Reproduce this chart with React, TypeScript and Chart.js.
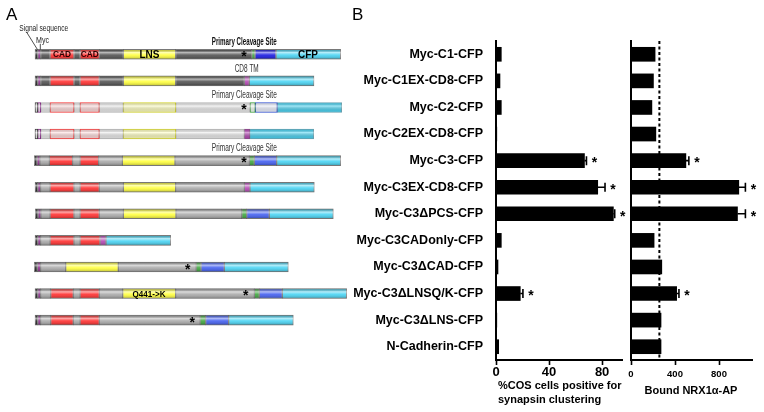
import React, { useEffect, useRef } from 'react';
import { Chart, registerables } from 'chart.js';

Chart.register(...registerables);

const FONT = '"Liberation Sans", Arial, sans-serif';

// ---------- Shared categories ----------
const constructNames = [
  'Myc-C1-CFP',
  'Myc-C1EX-CD8-CFP',
  'Myc-C2-CFP',
  'Myc-C2EX-CD8-CFP',
  'Myc-C3-CFP',
  'Myc-C3EX-CD8-CFP',
  'Myc-C3ΔPCS-CFP',
  'Myc-C3CADonly-CFP',
  'Myc-C3ΔCAD-CFP',
  'Myc-C3ΔLNSQ/K-CFP',
  'Myc-C3ΔLNS-CFP',
  'N-Cadherin-CFP',
];

// ---------- Panel B data ----------
const clusteringPct = [4, 3, 4, 0.6, 66.7, 76.7, 88.5, 4, 1.5, 18.3, 0.6, 2];
const clusteringErr = [0, 0, 0, 0, 1.5, 5.5, 1, 0, 0, 2, 0, 0];
const clusteringSignificant = [0, 0, 0, 0, 1, 1, 1, 0, 0, 1, 0, 0];
const clusteringTicks = [0, 40, 80];
const clusteringMax = 95;

const boundNrx = [219, 204, 190, 226, 499, 980, 968, 210, 280, 415, 273, 273];
const boundErr = [0, 0, 0, 0, 27, 60, 72, 0, 0, 21, 0, 0];
const boundSignificant = [0, 0, 0, 0, 1, 1, 1, 0, 0, 1, 0, 0];
const boundThreshold = 258;
const boundTicks = [0, 400, 800];
const boundMax = 1100;

// ---------- Panel A schematic (start, end, domain) in schematic units ----------
type Seg = [number, number, string];
const segC1: Seg[] = [[35, 37.7, 'sig'], [37.7, 40.7, 'myc'], [40.7, 50, 'gd'], [50, 74, 'cad'], [74, 80, 'gd'], [80, 99.3, 'cad'], [99.3, 123.3, 'gd'], [123.3, 175.7, 'lns'], [175.7, 251.7, 'gd'], [251.7, 255, 'pcs'], [255, 276, 'blueD'], [276, 340.7, 'cfp']];
const segC1EX: Seg[] = [[35, 37.7, 'sig'], [37.7, 40.7, 'myc'], [40.7, 50, 'gd'], [50, 74, 'cad'], [74, 80, 'gd'], [80, 99.3, 'cad'], [99.3, 123.3, 'gd'], [123.3, 175.7, 'lns'], [175.7, 244.3, 'gd'], [244.3, 249.3, 'tm'], [249.3, 314, 'cfp']];
const segC2: Seg[] = [[35, 37.7, 'sig'], [37.7, 40.7, 'myc'], [40.7, 50, 'g'], [50, 74, 'cad'], [74, 80, 'g'], [80, 99.3, 'cad'], [99.3, 123.3, 'g'], [123.3, 175.7, 'lns'], [175.7, 250, 'g'], [250, 255.3, 'pcs'], [255.3, 277.3, 'blue'], [277.3, 341.7, 'cfp']];
const segC2EX: Seg[] = [[35, 37.7, 'sig'], [37.7, 40.7, 'myc'], [40.7, 50, 'g'], [50, 74, 'cad'], [74, 80, 'g'], [80, 99.3, 'cad'], [99.3, 123.3, 'g'], [123.3, 175.7, 'lns'], [175.7, 244.3, 'g'], [244.3, 249.7, 'tm'], [249.7, 313.7, 'cfp']];
const segC3: Seg[] = [[34.3, 37, 'sig'], [37, 40, 'myc'], [40, 49.3, 'g'], [49.3, 72.7, 'cad'], [72.7, 80, 'g'], [80, 98.7, 'cad'], [98.7, 122.3, 'g'], [122.3, 175, 'lns'], [175, 249.3, 'g'], [249.3, 254.3, 'pcs'], [254.3, 276.7, 'blue'], [276.7, 340.7, 'cfp']];
const segC3EX: Seg[] = [[35, 37.7, 'sig'], [37.7, 40.7, 'myc'], [40.7, 50, 'g'], [50, 74, 'cad'], [74, 80, 'g'], [80, 99.3, 'cad'], [99.3, 123.3, 'g'], [123.3, 175.7, 'lns'], [175.7, 244.3, 'g'], [244.3, 250, 'tm'], [250, 314.3, 'cfp']];
const segC3dPCS: Seg[] = [[35.3, 38, 'sig'], [38, 41, 'myc'], [41, 50, 'g'], [50, 74, 'cad'], [74, 80, 'g'], [80, 99.3, 'cad'], [99.3, 123.3, 'g'], [123.3, 176, 'lns'], [176, 241.7, 'g'], [241.7, 246.7, 'pcs'], [246.7, 269.3, 'blue'], [269.3, 333.3, 'cfp']];
const segC3CADonly: Seg[] = [[35, 37.7, 'sig'], [37.7, 40.7, 'myc'], [40.7, 50, 'g'], [50, 74, 'cad'], [74, 80, 'g'], [80, 100, 'cad'], [100, 106, 'tm'], [106, 170.7, 'cfp']];
const segC3dCAD: Seg[] = [[34.3, 37.3, 'sig'], [37.3, 40.7, 'myc'], [40.7, 65.7, 'g'], [65.7, 118.3, 'lns'], [118.3, 196, 'g'], [196, 201, 'pcs'], [201, 224.3, 'blue'], [224.3, 288.3, 'cfp']];
const segC3dLNSQK: Seg[] = [[35, 37.7, 'sig'], [37.7, 40.7, 'myc'], [40.7, 50.7, 'g'], [50.7, 73.3, 'cad'], [73.3, 80, 'g'], [80, 99.3, 'cad'], [99.3, 122.7, 'g'], [122.7, 175.7, 'lns'], [175.7, 254.3, 'g'], [254.3, 259.3, 'pcs'], [259.3, 282.3, 'blue'], [282.3, 346.7, 'cfp']];
const segC3dLNS: Seg[] = [[35, 37.7, 'sig'], [37.7, 40.7, 'myc'], [40.7, 50.7, 'g'], [50.7, 73.3, 'cad'], [73.3, 80, 'g'], [80, 99.3, 'cad'], [99.3, 200, 'g'], [200, 205.7, 'pcs'], [205.7, 228.7, 'blue'], [228.7, 293.3, 'cfp']];
const schematicRows: Seg[][] = [segC1, segC1EX, segC2, segC2EX, segC3, segC3EX, segC3dPCS, segC3CADonly, segC3dCAD, segC3dLNSQK, segC3dLNS];
const fadedRows = [2, 3];
const cleavageStars: [number, number][] = [[0, 244], [2, 244], [4, 244], [8, 187.7], [9, 245.7], [10, 192.3]];
const domainLabels: [number, number, string][] = [[0, 62, 'CAD'], [0, 89.7, 'CAD'], [0, 149.5, 'LNS'], [0, 308, 'CFP'], [9, 149, 'Q441->K']];
const siteLabels: [number, number, string, number][] = [[0, 244.3, 'Primary Cleavage Site', 1], [1, 246.7, 'CD8 TM', 0], [2, 244.3, 'Primary Cleavage Site', 0], [4, 244.3, 'Primary Cleavage Site', 0]];

// ---------- Styles ----------
const SEG_FILL: Record<string, string> = {
  sig: '#1e1e1e', myc: '#8c2c8c', gd: '#4e4e4e', g: '#a8a8a8', cad: '#ff2b2b', lns: '#ffff3a',
  pcs: '#3aa53a', blue: '#3f5cf0', blueD: '#1414e2', cfp: '#45d3f3', tm: '#b444b4',
};
const SEG_FADED_FILL: Record<string, string> = {
  sig: '#f6f6f6', myc: '#f3e6f3', gd: '#ececec', g: '#ececec', cad: '#ffdada', lns: '#ffffbe',
  pcs: '#f4fff4', blue: '#eef2ff', blueD: '#eef2ff', cfp: '#45d3f3', tm: '#b444b4',
};
const SEG_FADED_BORDER: Record<string, string> = {
  sig: '#444444', myc: '#8c2c8c', gd: '#bbbbbb', g: '#bbbbbb', cad: '#ff3a3a', lns: '#d8d830',
  pcs: '#3aa53a', blue: '#3050d8', blueD: '#3050d8', cfp: '#6fa9b8', tm: '#905090',
};

const axisFont = (size: number) => ({ family: FONT, size, weight: 'bold' as const });

const schematicPlugin = {
  id: 'schematic',
  afterDatasetsDraw(chart: any) {
    const ctx = chart.ctx;
    const xs = chart.scales.x;
    const ys = chart.scales.y;
    ctx.save();
    chart.data.datasets.forEach((ds: any, di: number) => {
      const meta = chart.getDatasetMeta(di);
      meta.data.forEach((el: any, r: number) => {
        if (ds.data[r] == null) return;
        const p = el.getProps(['x', 'y', 'base', 'height'], true);
        const top = p.y - p.height / 2;
        const left = Math.min(p.x, p.base);
        const w = Math.abs(p.x - p.base);
        const faded = fadedRows.includes(r);
        const g = ctx.createLinearGradient(0, top, 0, top + p.height);
        if (faded) {
          g.addColorStop(0, 'rgba(0,0,0,0.03)');
          g.addColorStop(0.35, 'rgba(255,255,255,0.5)');
          g.addColorStop(1, 'rgba(0,0,0,0.06)');
        } else {
          g.addColorStop(0, 'rgba(0,0,0,0.22)');
          g.addColorStop(0.32, 'rgba(255,255,255,0.6)');
          g.addColorStop(0.58, 'rgba(255,255,255,0.12)');
          g.addColorStop(1, 'rgba(0,0,0,0.28)');
        }
        ctx.fillStyle = g;
        ctx.fillRect(left, top, w, p.height);
      });
    });
    const yPix = (r: number) => ys.getPixelForValue(r);
    const xPix = (v: number) => xs.getPixelForValue(v);
    ctx.textAlign = 'center';
    ctx.textBaseline = 'middle';
    ctx.fillStyle = '#000';
    domainLabels.forEach(([r, x, t]) => {
      const size = t === 'CAD' ? 9 : t === 'Q441->K' ? 9 : 10.5;
      ctx.font = `bold ${size}px ${FONT}`;
      ctx.fillStyle = t === 'CAD' ? '#2a0000' : '#000';
      const maxW = t === 'CAD' ? 18 : t === 'Q441->K' ? 33 : 20;
      ctx.fillText(t, xPix(x), yPix(r) + 0.5, maxW);
    });
    ctx.fillStyle = '#000';
    ctx.font = `bold 14px ${FONT}`;
    cleavageStars.forEach(([r, x]) => {
      ctx.fillText('*', xPix(x), yPix(r) + 3);
    });
    siteLabels.forEach(([r, x, t, bold]) => {
      ctx.font = `${bold ? 'bold ' : ''}10px ${FONT}`;
      ctx.fillStyle = bold ? '#111' : '#333';
      const maxW = t === 'CD8 TM' ? 24 : 65;
      ctx.fillText(t, xPix(x), yPix(r) - 12, maxW);
    });
    // signal sequence / Myc annotations
    const y0 = yPix(0);
    ctx.textAlign = 'left';
    ctx.fillStyle = '#222';
    ctx.font = `9.5px ${FONT}`;
    ctx.fillText('Signal sequence', xPix(19.3), y0 - 26, 49);
    ctx.fillText('Myc', xPix(36), y0 - 14, 13);
    ctx.strokeStyle = '#222';
    ctx.lineWidth = 0.8;
    ctx.beginPath();
    ctx.moveTo(xPix(26.7), y0 - 22);
    ctx.lineTo(xPix(37.3), y0 - 5);
    ctx.moveTo(xPix(40.3), y0 - 10.5);
    ctx.lineTo(xPix(40.3), y0 - 5);
    ctx.stroke();
    ctx.restore();
  },
};

const makeErrorPlugin = (errs: number[], sig: number[]) => ({
  id: 'errorBars',
  afterDatasetsDraw(chart: any) {
    const ctx = chart.ctx;
    const xs = chart.scales.x;
    const meta = chart.getDatasetMeta(0);
    const vals = chart.data.datasets[0].data as number[];
    ctx.save();
    ctx.strokeStyle = '#000';
    ctx.fillStyle = '#000';
    ctx.lineWidth = 1.6;
    meta.data.forEach((el: any, i: number) => {
      const p = el.getProps(['x', 'y'], true);
      let endX = p.x;
      if (errs[i] > 0) {
        const ex = xs.getPixelForValue(vals[i] + errs[i]);
        ctx.beginPath();
        ctx.moveTo(p.x, p.y);
        ctx.lineTo(ex, p.y);
        ctx.moveTo(ex, p.y - 4.5);
        ctx.lineTo(ex, p.y + 4.5);
        ctx.stroke();
        endX = ex;
      }
      if (sig[i]) {
        ctx.font = `bold 14px ${FONT}`;
        ctx.textAlign = 'center';
        ctx.textBaseline = 'middle';
        ctx.fillText('*', endX + 8, p.y + 3);
      }
    });
    ctx.restore();
  },
});

const thresholdPlugin = {
  id: 'threshold',
  afterDatasetsDraw(chart: any) {
    const ctx = chart.ctx;
    const x = chart.scales.x.getPixelForValue(boundThreshold);
    const { top, bottom } = chart.chartArea;
    ctx.save();
    ctx.strokeStyle = '#000';
    ctx.lineWidth = 2;
    ctx.setLineDash([3, 2.5]);
    ctx.beginPath();
    ctx.moveTo(x, top);
    ctx.lineTo(x, bottom);
    ctx.stroke();
    ctx.restore();
  },
};

const barXScale = (max: number, ticks: number[], fontSize: number, pad: number) => ({
  type: 'linear' as const,
  min: 0,
  max,
  afterBuildTicks: (s: any) => {
    s.ticks = ticks.map((v) => ({ value: v }));
  },
  afterFit: (s: any) => {
    s.height = 52;
  },
  grid: { display: true, drawOnChartArea: false, drawTicks: true, tickLength: 5, tickColor: '#000', tickWidth: 1.6 },
  border: { display: true, color: '#000', width: 2 },
  ticks: { color: '#000', font: axisFont(fontSize), padding: pad, maxRotation: 0 },
});

export default function App() {
  const aRef = useRef<HTMLCanvasElement>(null);
  const bRef = useRef<HTMLCanvasElement>(null);
  const cRef = useRef<HTMLCanvasElement>(null);

  useEffect(() => {
    Chart.defaults.font.family = FONT;
    const charts: Chart[] = [];

    const maxSegs = Math.max(...schematicRows.map((r) => r.length));
    const datasetsA: any[] = [];
    for (let k = 0; k < maxSegs; k++) {
      const segAt = (r: number) => (schematicRows[r] ? schematicRows[r][k] : undefined);
      datasetsA.push({
        data: constructNames.map((_, r) => {
          const s = segAt(r);
          return s ? [s[0], s[1]] : null;
        }),
        backgroundColor: constructNames.map((_, r) => {
          const s = segAt(r);
          if (!s) return 'rgba(0,0,0,0)';
          return fadedRows.includes(r) ? SEG_FADED_FILL[s[2]] : SEG_FILL[s[2]];
        }),
        borderColor: constructNames.map((_, r) => {
          const s = segAt(r);
          if (!s) return 'rgba(0,0,0,0)';
          return fadedRows.includes(r) ? SEG_FADED_BORDER[s[2]] : 'rgba(50,50,50,0.55)';
        }),
        borderWidth: 1,
        borderSkipped: false,
        barThickness: 10,
        grouped: false,
      });
    }

    if (aRef.current) {
      charts.push(
        new Chart(aRef.current, {
          type: 'bar',
          data: { labels: constructNames, datasets: datasetsA },
          options: {
            indexAxis: 'y',
            animation: false,
            responsive: false,
            events: [],
            layout: { padding: { top: 41, bottom: 52, left: 0, right: 0 } },
            plugins: { legend: { display: false }, tooltip: { enabled: false } },
            scales: {
              x: { type: 'linear', min: 0, max: 360, display: false },
              y: { type: 'category', display: false, offset: true },
            },
          } as any,
          plugins: [schematicPlugin],
        })
      );
    }

    if (bRef.current) {
      charts.push(
        new Chart(bRef.current, {
          type: 'bar',
          data: {
            labels: constructNames,
            datasets: [{ data: clusteringPct, backgroundColor: '#000', barThickness: 14 }],
          },
          options: {
            indexAxis: 'y',
            animation: false,
            responsive: false,
            events: [],
            layout: { padding: { top: 41, bottom: 0, left: 0, right: 8 } },
            plugins: { legend: { display: false }, tooltip: { enabled: false } },
            scales: {
              x: barXScale(clusteringMax, clusteringTicks, 13, 0),
              y: {
                type: 'category',
                offset: true,
                afterFit: (s: any) => {
                  s.width = 156;
                },
                grid: { display: false },
                border: { display: true, color: '#000', width: 2 },
                ticks: { color: '#000', font: axisFont(12.5), padding: 5, autoSkip: false },
              },
            },
          } as any,
          plugins: [makeErrorPlugin(clusteringErr, clusteringSignificant)],
        })
      );
    }

    if (cRef.current) {
      charts.push(
        new Chart(cRef.current, {
          type: 'bar',
          data: {
            labels: constructNames,
            datasets: [{ data: boundNrx, backgroundColor: '#000', barThickness: 14 }],
          },
          options: {
            indexAxis: 'y',
            animation: false,
            responsive: false,
            events: [],
            layout: { padding: { top: 41, bottom: 0, left: 0, right: 12 } },
            plugins: { legend: { display: false }, tooltip: { enabled: false } },
            scales: {
              x: barXScale(boundMax, boundTicks, 9.5, 4),
              y: {
                type: 'category',
                offset: true,
                afterFit: (s: any) => {
                  s.width = 31;
                },
                grid: { display: false },
                border: { display: true, color: '#000', width: 2 },
                ticks: { display: false },
              },
            },
          } as any,
          plugins: [thresholdPlugin, makeErrorPlugin(boundErr, boundSignificant)],
        })
      );
    }

    return () => {
      charts.forEach((c) => c.destroy());
    };
  }, []);

  const abs = (left: number, top: number, extra: React.CSSProperties = {}): React.CSSProperties => ({
    position: 'absolute',
    left,
    top,
    ...extra,
  });

  return (
    <div style={{ position: 'absolute', left: 0, top: 0, width: 764, height: 412, background: '#fff', overflow: 'hidden', fontFamily: FONT }}>
      <canvas ref={aRef} width={360} height={412} style={abs(0, 0, { display: 'block' })} />
      <canvas ref={bRef} width={290} height={412} style={abs(340, 0, { display: 'block' })} />
      <canvas ref={cRef} width={164} height={412} style={abs(600, 0, { display: 'block' })} />
      <div style={abs(6, 6, { fontSize: 17, lineHeight: '17px', color: '#000' })}>A</div>
      <div style={abs(352, 6, { fontSize: 17, lineHeight: '17px', color: '#000' })}>B</div>
      <div style={abs(498, 379, { fontSize: 11, lineHeight: '13.5px', fontWeight: 'bold', color: '#000', whiteSpace: 'nowrap' })}>
        %COS cells positive for
        <br />
        synapsin clustering
      </div>
      <div style={abs(630, 384, { width: 122, textAlign: 'center', fontSize: 11, lineHeight: '13.5px', fontWeight: 'bold', color: '#000', whiteSpace: 'nowrap' })}>
        Bound NRX1α-AP
      </div>
    </div>
  );
}
